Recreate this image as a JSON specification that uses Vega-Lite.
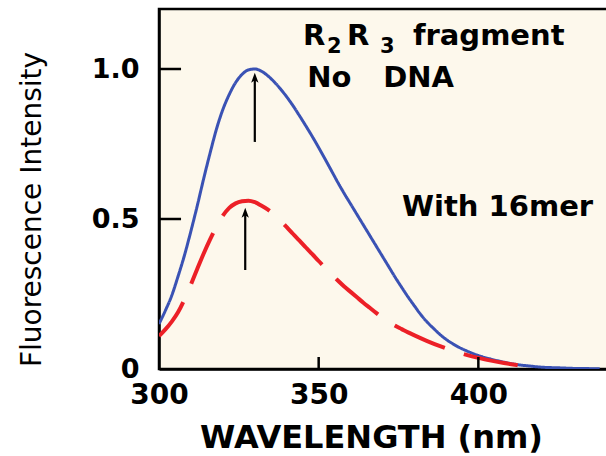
{
  "$schema": "https://vega.github.io/schema/vega-lite/v6.json",
  "width": 449,
  "height": 360,
  "autosize": {"type": "none"},
  "padding": {"left": 159, "top": 9, "right": 0, "bottom": 87},
  "background": "white",
  "config": {
    "view": {"fill": "#fdf8ec", "stroke": "black", "strokeWidth": 2.5},
    "font": "DejaVu Sans"
  },
  "datasets": {
    "curves": [
      {"wl": 300, "v": 0.15, "s": "No DNA"},
      {"wl": 302, "v": 0.195, "s": "No DNA"},
      {"wl": 304, "v": 0.245, "s": "No DNA"},
      {"wl": 306, "v": 0.31, "s": "No DNA"},
      {"wl": 308, "v": 0.38, "s": "No DNA"},
      {"wl": 310, "v": 0.46, "s": "No DNA"},
      {"wl": 312, "v": 0.545, "s": "No DNA"},
      {"wl": 314, "v": 0.635, "s": "No DNA"},
      {"wl": 316, "v": 0.72, "s": "No DNA"},
      {"wl": 318, "v": 0.8, "s": "No DNA"},
      {"wl": 320, "v": 0.865, "s": "No DNA"},
      {"wl": 322, "v": 0.915, "s": "No DNA"},
      {"wl": 324, "v": 0.955, "s": "No DNA"},
      {"wl": 326, "v": 0.982, "s": "No DNA"},
      {"wl": 328, "v": 0.997, "s": "No DNA"},
      {"wl": 330, "v": 1.0, "s": "No DNA"},
      {"wl": 332, "v": 0.993, "s": "No DNA"},
      {"wl": 334, "v": 0.978, "s": "No DNA"},
      {"wl": 336, "v": 0.958, "s": "No DNA"},
      {"wl": 338, "v": 0.934, "s": "No DNA"},
      {"wl": 340, "v": 0.907, "s": "No DNA"},
      {"wl": 342, "v": 0.877, "s": "No DNA"},
      {"wl": 344, "v": 0.844, "s": "No DNA"},
      {"wl": 346, "v": 0.81, "s": "No DNA"},
      {"wl": 348, "v": 0.775, "s": "No DNA"},
      {"wl": 350, "v": 0.738, "s": "No DNA"},
      {"wl": 352, "v": 0.7, "s": "No DNA"},
      {"wl": 354, "v": 0.661, "s": "No DNA"},
      {"wl": 356, "v": 0.622, "s": "No DNA"},
      {"wl": 358, "v": 0.585, "s": "No DNA"},
      {"wl": 360, "v": 0.55, "s": "No DNA"},
      {"wl": 362, "v": 0.515, "s": "No DNA"},
      {"wl": 364, "v": 0.48, "s": "No DNA"},
      {"wl": 366, "v": 0.445, "s": "No DNA"},
      {"wl": 368, "v": 0.41, "s": "No DNA"},
      {"wl": 370, "v": 0.375, "s": "No DNA"},
      {"wl": 372, "v": 0.34, "s": "No DNA"},
      {"wl": 374, "v": 0.305, "s": "No DNA"},
      {"wl": 376, "v": 0.272, "s": "No DNA"},
      {"wl": 378, "v": 0.24, "s": "No DNA"},
      {"wl": 380, "v": 0.21, "s": "No DNA"},
      {"wl": 382, "v": 0.181, "s": "No DNA"},
      {"wl": 384, "v": 0.156, "s": "No DNA"},
      {"wl": 386, "v": 0.135, "s": "No DNA"},
      {"wl": 388, "v": 0.115, "s": "No DNA"},
      {"wl": 390, "v": 0.098, "s": "No DNA"},
      {"wl": 392, "v": 0.084, "s": "No DNA"},
      {"wl": 394, "v": 0.072, "s": "No DNA"},
      {"wl": 396, "v": 0.062, "s": "No DNA"},
      {"wl": 398, "v": 0.053, "s": "No DNA"},
      {"wl": 400, "v": 0.045, "s": "No DNA"},
      {"wl": 404, "v": 0.033, "s": "No DNA"},
      {"wl": 408, "v": 0.023, "s": "No DNA"},
      {"wl": 412, "v": 0.015, "s": "No DNA"},
      {"wl": 416, "v": 0.01, "s": "No DNA"},
      {"wl": 420, "v": 0.006, "s": "No DNA"},
      {"wl": 425, "v": 0.004, "s": "No DNA"},
      {"wl": 430, "v": 0.002, "s": "No DNA"},
      {"wl": 438, "v": 0.001, "s": "No DNA"},
      {"wl": 300, "v": 0.11, "s": "With 16mer"},
      {"wl": 302, "v": 0.132, "s": "With 16mer"},
      {"wl": 304, "v": 0.158, "s": "With 16mer"},
      {"wl": 306, "v": 0.19, "s": "With 16mer"},
      {"wl": 308, "v": 0.233, "s": "With 16mer"},
      {"wl": 310, "v": 0.282, "s": "With 16mer"},
      {"wl": 312, "v": 0.334, "s": "With 16mer"},
      {"wl": 314, "v": 0.385, "s": "With 16mer"},
      {"wl": 316, "v": 0.432, "s": "With 16mer"},
      {"wl": 318, "v": 0.475, "s": "With 16mer"},
      {"wl": 320, "v": 0.511, "s": "With 16mer"},
      {"wl": 322, "v": 0.537, "s": "With 16mer"},
      {"wl": 324, "v": 0.552, "s": "With 16mer"},
      {"wl": 326, "v": 0.559, "s": "With 16mer"},
      {"wl": 328, "v": 0.561, "s": "With 16mer"},
      {"wl": 330, "v": 0.556, "s": "With 16mer"},
      {"wl": 332, "v": 0.545, "s": "With 16mer"},
      {"wl": 334, "v": 0.532, "s": "With 16mer"},
      {"wl": 336, "v": 0.515, "s": "With 16mer"},
      {"wl": 338, "v": 0.495, "s": "With 16mer"},
      {"wl": 340, "v": 0.473, "s": "With 16mer"},
      {"wl": 342, "v": 0.45, "s": "With 16mer"},
      {"wl": 344, "v": 0.428, "s": "With 16mer"},
      {"wl": 346, "v": 0.405, "s": "With 16mer"},
      {"wl": 348, "v": 0.383, "s": "With 16mer"},
      {"wl": 350, "v": 0.36, "s": "With 16mer"},
      {"wl": 352, "v": 0.338, "s": "With 16mer"},
      {"wl": 354, "v": 0.316, "s": "With 16mer"},
      {"wl": 356, "v": 0.295, "s": "With 16mer"},
      {"wl": 358, "v": 0.275, "s": "With 16mer"},
      {"wl": 360, "v": 0.257, "s": "With 16mer"},
      {"wl": 362, "v": 0.239, "s": "With 16mer"},
      {"wl": 364, "v": 0.221, "s": "With 16mer"},
      {"wl": 366, "v": 0.204, "s": "With 16mer"},
      {"wl": 368, "v": 0.187, "s": "With 16mer"},
      {"wl": 370, "v": 0.171, "s": "With 16mer"},
      {"wl": 372, "v": 0.157, "s": "With 16mer"},
      {"wl": 374, "v": 0.144, "s": "With 16mer"},
      {"wl": 376, "v": 0.133, "s": "With 16mer"},
      {"wl": 378, "v": 0.122, "s": "With 16mer"},
      {"wl": 380, "v": 0.112, "s": "With 16mer"},
      {"wl": 384, "v": 0.093, "s": "With 16mer"},
      {"wl": 388, "v": 0.076, "s": "With 16mer"},
      {"wl": 392, "v": 0.061, "s": "With 16mer"},
      {"wl": 396, "v": 0.048, "s": "With 16mer"},
      {"wl": 400, "v": 0.037, "s": "With 16mer"},
      {"wl": 404, "v": 0.028, "s": "With 16mer"},
      {"wl": 408, "v": 0.02, "s": "With 16mer"},
      {"wl": 412, "v": 0.013, "s": "With 16mer"},
      {"wl": 416, "v": 0.008, "s": "With 16mer"},
      {"wl": 418, "v": 0.006, "s": "With 16mer"}
    ],
    "arrows": [
      {"wl": 330, "tail": 0.757, "head": 0.97},
      {"wl": 327, "tail": 0.33, "head": 0.52}
    ],
    "xticks": [
      {"wl": 350, "lo": 0, "hi": 0.04},
      {"wl": 400, "lo": 0, "hi": 0.04}
    ],
    "yticks": [
      {"v": 0.5, "lo": 300, "hi": 306.9},
      {"v": 1.0, "lo": 300, "hi": 306.9}
    ],
    "notes": [
      {"label": "R", "wl": 345.1, "v": 1.08},
      {"label": "R", "wl": 358.9, "v": 1.08},
      {"label": "fragment", "wl": 379.5, "v": 1.08},
      {"label": "No", "wl": 346.4, "v": 0.94},
      {"label": "DNA", "wl": 370.2, "v": 0.94},
      {"label": "With 16mer", "wl": 376.1, "v": 0.51}
    ],
    "subs": [
      {"label": "2", "wl": 352.6, "v": 1.053},
      {"label": "3", "wl": 369.2, "v": 1.053}
    ]
  },
  "layer": [
    {
      "data": {"name": "curves"},
      "mark": {"type": "line", "clip": true, "interpolate": "monotone", "strokeDashOffset": 13},
      "encoding": {
        "x": {
          "field": "wl", "type": "quantitative",
          "scale": {"domain": [300, 440.6], "nice": false, "zero": false},
          "axis": {
            "values": [300, 350, 400], "format": "d", "grid": false,
            "labelFlush": false, "ticks": false,
            "title": "WAVELENGTH (nm)",
            "domainColor": "black", "domainWidth": 2.5,
            "labelFontSize": 28, "labelFontWeight": "bold", "labelColor": "black", "labelPadding": 12,
            "titleFontSize": 32, "titleFontWeight": "bold", "titleColor": "black",
            "titleX": 212, "titleY": 78, "titleBaseline": "alphabetic", "titleAlign": "center"
          }
        },
        "y": {
          "field": "v", "type": "quantitative",
          "scale": {"domain": [0, 1.2], "nice": false},
          "axis": {
            "values": [0, 0.5, 1], "grid": false, "ticks": false,
            "labelExpr": "datum.value == 0 ? '0' : format(datum.value, '.1f')",
            "title": "Fluorescence Intensity",
            "domainColor": "black", "domainWidth": 2.5,
            "labelFontSize": 27, "labelFontWeight": "bold", "labelColor": "black", "labelPadding": 20,
            "titleFontSize": 28, "titleFontWeight": "normal", "titleColor": "black",
            "titleAngle": 270, "titleX": -119, "titleY": 200,
            "titleBaseline": "alphabetic", "titleAlign": "center"
          }
        },
        "color": {
          "field": "s", "type": "nominal",
          "scale": {"domain": ["No DNA", "With 16mer"], "range": ["#3a52b4", "#ec2027"]},
          "legend": null
        },
        "strokeDash": {
          "field": "s", "type": "nominal",
          "scale": {"domain": ["No DNA", "With 16mer"], "range": [[1, 0], [55, 20]]},
          "legend": null
        },
        "strokeWidth": {
          "field": "s", "type": "nominal",
          "scale": {"domain": ["No DNA", "With 16mer"], "range": [3, 4]},
          "legend": null
        }
      }
    },
    {
      "data": {"name": "xticks"},
      "mark": {"type": "rule", "color": "black", "strokeWidth": 2.5},
      "encoding": {
        "x": {"field": "wl", "type": "quantitative"},
        "y": {"field": "lo", "type": "quantitative"},
        "y2": {"field": "hi"}
      }
    },
    {
      "data": {"name": "yticks"},
      "mark": {"type": "rule", "color": "black", "strokeWidth": 2.5},
      "encoding": {
        "y": {"field": "v", "type": "quantitative"},
        "x": {"field": "lo", "type": "quantitative"},
        "x2": {"field": "hi"}
      }
    },
    {
      "data": {"name": "arrows"},
      "mark": {"type": "rule", "color": "black", "strokeWidth": 2.2},
      "encoding": {
        "x": {"field": "wl", "type": "quantitative"},
        "y": {"field": "tail", "type": "quantitative"},
        "y2": {"field": "head"}
      }
    },
    {
      "data": {"name": "arrows"},
      "mark": {"type": "point", "shape": "M0,-1L0.7,0.9L0,0.45L-0.7,0.9Z", "filled": true, "color": "black", "size": 110, "opacity": 1},
      "encoding": {
        "x": {"field": "wl", "type": "quantitative"},
        "y": {"field": "head", "type": "quantitative"}
      }
    },
    {
      "data": {"name": "notes"},
      "mark": {"type": "text", "align": "left", "baseline": "alphabetic", "fontSize": 29, "fontWeight": "bold", "color": "black"},
      "encoding": {
        "x": {"field": "wl", "type": "quantitative"},
        "y": {"field": "v", "type": "quantitative"},
        "text": {"field": "label"}
      }
    },
    {
      "data": {"name": "subs"},
      "mark": {"type": "text", "align": "left", "baseline": "alphabetic", "fontSize": 21, "fontWeight": "bold", "color": "black"},
      "encoding": {
        "x": {"field": "wl", "type": "quantitative"},
        "y": {"field": "v", "type": "quantitative"},
        "text": {"field": "label"}
      }
    }
  ]
}
